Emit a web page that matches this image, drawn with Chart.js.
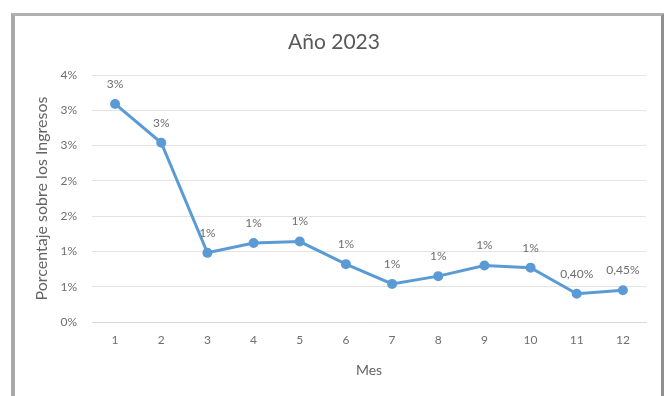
<!DOCTYPE html>
<html>
<head>
<meta charset="utf-8">
<script src="https://cdn.jsdelivr.net/npm/chart.js@4.4.0/dist/chart.umd.min.js"></script>
<style>
  html, body { margin: 0; padding: 0; background: #fff; }
  #wrap { position: relative; width: 664px; height: 396px; overflow: hidden; }
  #frame {
    position: absolute; left: 11px; top: 13px; width: 646px; height: 400px;
    border-left: 4px solid #a9a9a9; border-top: 3px solid #b0b0b0; border-right: 4px solid #8f8f8f;
  }
  canvas { position: absolute; left: 0; top: 0; }
</style>
</head>
<body>
<div id="wrap">
  <div id="frame"></div>
  <canvas id="lineChart" width="664" height="396"></canvas>
</div>
<script>
// chart data
const chartTitle = 'Año 2023';
const months = ['1', '2', '3', '4', '5', '6', '7', '8', '9', '10', '11', '12'];
const percentValues = [3.09, 2.54, 0.98, 1.12, 1.14, 0.82, 0.54, 0.65, 0.80, 0.77, 0.40, 0.45];
const pointLabels = ['3%', '3%', '1%', '1%', '1%', '1%', '1%', '1%', '1%', '1%', '0,40%', '0,45%'];
const yTickLabels = ['0%', '1%', '1%', '2%', '2%', '3%', '3%', '4%'];

const textColor = '#6e6e6e';
const fontFamily = 'Lato, "Open Sans", sans-serif';

// value text above each marker + the chart title centred on the whole frame
const labelsPlugin = {
  id: 'labelsPlugin',
  afterDatasetsDraw(chart) {
    const ctx = chart.ctx;
    const meta = chart.getDatasetMeta(0);
    ctx.save();
    ctx.fillStyle = textColor;
    ctx.font = '12px ' + fontFamily;
    ctx.textAlign = 'center';
    ctx.textBaseline = 'middle';
    meta.data.forEach((pt, i) => {
      ctx.fillText(pointLabels[i], pt.x, pt.y - 20);
    });
    ctx.fillStyle = '#595959';
    ctx.font = '21px ' + fontFamily;
    ctx.fillText(chartTitle, 334, 42);
    ctx.restore();
  }
};

const ctx = document.getElementById('lineChart').getContext('2d');
new Chart(ctx, {
  type: 'line',
  data: {
    labels: months,
    datasets: [{
      label: chartTitle,
      data: percentValues,
      borderColor: '#5b9bd5',
      backgroundColor: '#5b9bd5',
      borderWidth: 3,
      pointRadius: 3.5,
      pointBackgroundColor: '#5b9bd5',
      pointBorderColor: '#5b9bd5',
      tension: 0
    }]
  },
  options: {
    responsive: false,
    animation: false,
    layout: { padding: { left: 0, right: 18, top: 75, bottom: 0 } },
    plugins: {
      legend: { display: false },
      tooltip: { enabled: false },
      title: { display: false }
    },
    scales: {
      x: {
        offset: true,
        grid: { display: false, drawTicks: false },
        border: { display: true, color: '#d9d9d9', width: 1 },
        ticks: { color: textColor, font: { family: fontFamily, size: 12 }, padding: 11, maxRotation: 0 },
        title: {
          display: true,
          text: 'Mes',
          color: '#646464',
          font: { family: fontFamily, size: 14 },
          padding: { top: 0, bottom: 17 }
        },
        afterFit(scale) { scale.height = 74; }
      },
      y: {
        min: 0,
        max: 3.5,
        grid: { color: '#e3e3e3', drawTicks: false },
        border: { display: false },
        ticks: {
          stepSize: 0.5,
          color: textColor,
          font: { family: fontFamily, size: 12 },
          padding: 15,
          callback: (value, index) => yTickLabels[index]
        },
        title: {
          display: true,
          text: 'Porcentaje sobre los Ingresos',
          color: '#646464',
          font: { family: fontFamily, size: 16 },
          padding: { top: 32, bottom: 0 }
        },
        afterFit(scale) { scale.width = 92; }
      }
    }
  },
  plugins: [labelsPlugin]
});
</script>
</body>
</html>
